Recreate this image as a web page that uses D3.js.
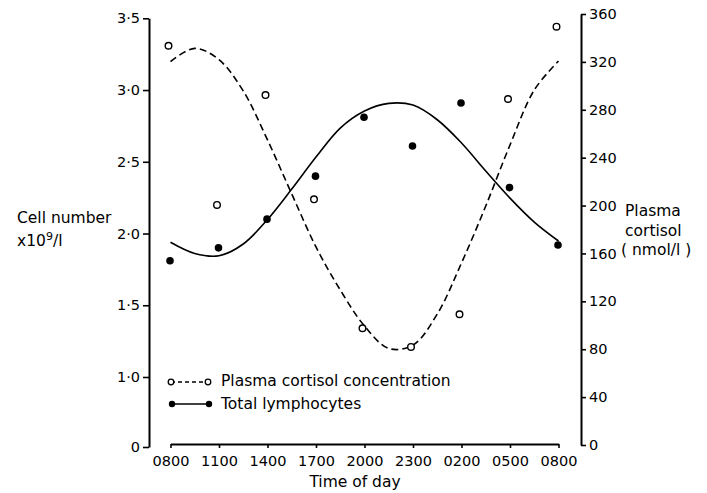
<!DOCTYPE html>
<html><head><meta charset="utf-8">
<script src="https://cdn.jsdelivr.net/npm/d3@7"></script>
<style>
body{margin:0;background:#fff}
svg text{font-family:"DejaVu Sans",sans-serif;fill:#000}
</style>
</head><body>
<svg id="c" width="707" height="493"></svg>
<script>
// ---- data ----
const timeLabels = ["0800","1100","1400","1700","2000","2300","0200","0500","0800"];
const timeIndex = [0,1,2,3,4,5,6,7,8];
const lymphocytes = [1.81,1.90,2.10,2.40,2.81,2.61,2.91,2.32,1.92];          // x10^9/l, filled circles
const cortisol = [333.5,200.5,292.3,205.2,97.5,81.9,109.2,289.0,349.4];    // nmol/l, open circles
const fitIndex = [0,0.5,1,1.5,2,2.5,3,3.5,4,4.5,5,5.5,6,6.5,7,7.5,8];
const lymphFit = [1.939,1.861,1.845,1.927,2.098,2.310,2.533,2.735,2.854,2.907,2.895,2.793,2.631,2.436,2.247,2.080,1.948];
const cortisolFit = [320.3,331.3,321.8,295.7,254.8,209.7,165.4,129.5,99.4,80.6,83.5,109.4,152.0,199.6,250.6,296.5,320.7];
const leftTicks = [0,1,1.5,2,2.5,3,3.5];
const leftTickLabels = ["0","1·0","1·5","2·0","2·5","3·0","3·5"];
const rightTicks = [0,40,80,120,160,200,240,280,320,360];
const legendLabels = ["Plasma cortisol concentration","Total lymphocytes"];

const svg = d3.select("#c");
const fs = 15.5, tfs = 14.5;

const x = d3.scaleLinear().domain([0,8]).range([170.5,558.5]);
// broken left axis: 0 then 1.0 ... 3.5
const yL = d3.scaleLinear().domain([0,1,3.5]).range([447,377,18.3]);
const yR = d3.scaleLinear().domain([0,360]).range([445,14]);

function styleAxis(g){
  g.select(".domain").attr("stroke","#000").attr("stroke-width",2);
  g.selectAll(".tick line").attr("stroke","#000").attr("stroke-width",1.6);
  g.selectAll(".tick text").attr("font-size",tfs).attr("font-family","'DejaVu Sans', sans-serif").attr("fill","#000");
}

// left axis
svg.append("g").attr("transform","translate(149,0)")
  .call(d3.axisLeft(yL).tickValues(leftTicks).tickFormat((d,i)=>leftTickLabels[i]).tickSize(6).tickSizeOuter(0).tickPadding(3))
  .call(styleAxis);
// right axis
svg.append("g").attr("transform","translate(581,0)")
  .call(d3.axisRight(yR).tickValues(rightTicks).tickSize(5).tickSizeOuter(0).tickPadding(3))
  .call(styleAxis);
// bottom axis
svg.append("g").attr("transform","translate(0,444)")
  .call(d3.axisBottom(x).tickValues(timeIndex).tickFormat((d,i)=>timeLabels[i]).tickSize(4).tickSizeOuter(0).tickPadding(8))
  .call(styleAxis);

// axis titles
const t1 = svg.append("text").attr("font-size",fs);
t1.append("tspan").attr("x",17).attr("y",223).text("Cell number");
const t2 = svg.append("text").attr("font-size",fs).attr("x",17).attr("y",246);
t2.append("tspan").text("x10");
t2.append("tspan").attr("dy",-6).attr("font-size",11).text("9");
t2.append("tspan").attr("dy",6).text("/l");

const rt = svg.append("text").attr("font-size",fs);
rt.append("tspan").attr("x",625).attr("y",216).text("Plasma");
rt.append("tspan").attr("x",625).attr("y",236).text("cortisol");
rt.append("tspan").attr("x",621).attr("y",255).text("( nmol/l )");

svg.append("text").attr("font-size",fs).attr("x",355).attr("y",487).attr("text-anchor","middle").text("Time of day");

// fitted curves
const lineL = d3.line().x((d,i)=>x(fitIndex[i])).y(d=>yL(d)).curve(d3.curveCatmullRom.alpha(0.5));
const lineR = d3.line().x((d,i)=>x(fitIndex[i])).y(d=>yR(d)).curve(d3.curveCatmullRom.alpha(0.5));
svg.append("path").attr("d",lineR(cortisolFit)).attr("fill","none").attr("stroke","#000").attr("stroke-width",1.6).attr("stroke-dasharray","7,4");
svg.append("path").attr("d",lineL(lymphFit)).attr("fill","none").attr("stroke","#000").attr("stroke-width",1.6);

// points
svg.append("g").selectAll("circle").data(cortisol).join("circle")
  .attr("cx",(d,i)=>x(timeIndex[i])-2).attr("cy",d=>yR(d)).attr("r",3.3)
  .attr("fill","#fff").attr("stroke","#000").attr("stroke-width",1.4);
svg.append("g").selectAll("circle").data(lymphocytes).join("circle")
  .attr("cx",(d,i)=>x(timeIndex[i])-0.5).attr("cy",d=>yL(d)).attr("r",3.8)
  .attr("fill","#000");

// legend
const lg = svg.append("g");
lg.append("line").attr("x1",171).attr("x2",208).attr("y1",382).attr("y2",382).attr("stroke","#000").attr("stroke-width",1.4).attr("stroke-dasharray","4,3");
lg.selectAll("circle.o").data([171,208]).join("circle").attr("class","o").attr("cx",d=>d).attr("cy",382).attr("r",2.8).attr("fill","#fff").attr("stroke","#000").attr("stroke-width",1.3);
lg.append("line").attr("x1",172).attr("x2",209).attr("y1",404).attr("y2",404).attr("stroke","#000").attr("stroke-width",1.6);
lg.selectAll("circle.f").data([172,209]).join("circle").attr("class","f").attr("cx",d=>d).attr("cy",404).attr("r",3.2).attr("fill","#000");
lg.selectAll("text").data(legendLabels).join("text").attr("x",221).attr("y",(d,i)=>386+i*23).attr("font-size",fs).text(d=>d);
</script>
</body></html>
